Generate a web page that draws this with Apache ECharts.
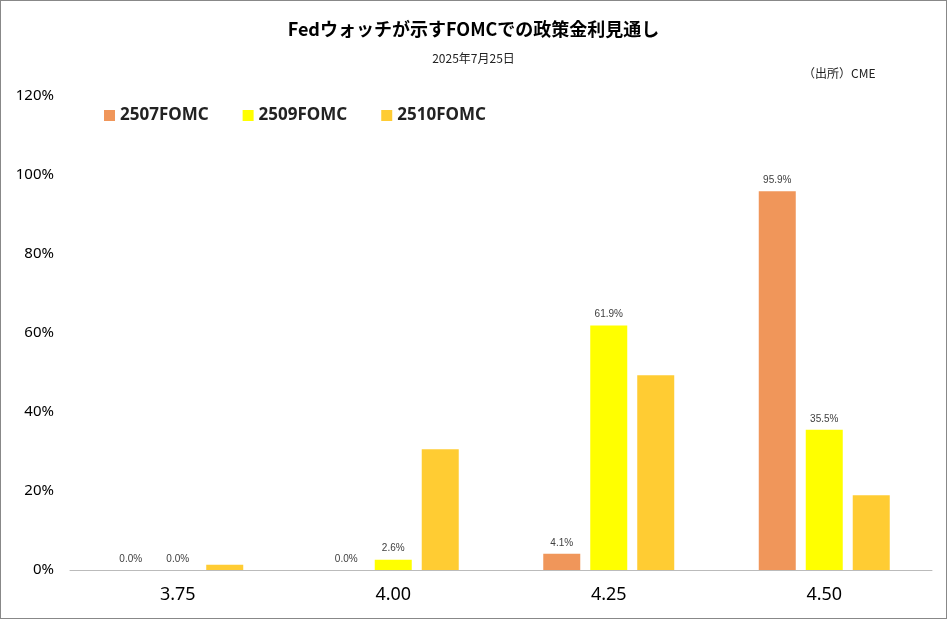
<!DOCTYPE html><html><head><meta charset="utf-8"><script src="https://cdn.jsdelivr.net/npm/echarts@6/dist/echarts.min.js"></script>
<style>body{margin:0}#c{width:945px;height:617px;border:1px solid #888;box-sizing:content-box}</style></head><body><div id="c"></div><script>
const categories=['3.75','4.00','4.25','4.50'];
const s2507=[0.0,0.0,4.1,95.9];
const s2509=[0.0,2.6,61.9,35.5];
const s2510=[1.3,30.6,49.3,18.9];
const names=['2507FOMC','2509FOMC','2510FOMC'];
const colors=['#F0965A','#FFFF00','#FFCC33'];
const ch=echarts.init(document.getElementById('c'));
const lab={show:true,position:'top',fontSize:10,color:'#404040',formatter:p=>p.value.toFixed(1)+'%',distance:6};
ch.setOption({
 title:[{text:'Fedウォッチが示すFOMCでの政策金利見通し',left:'center',top:14,textStyle:{fontSize:18,fontWeight:'bold',color:'#000',fontFamily:'Noto Sans CJK JP'}},
 {text:'2025年7月25日',left:'center',top:46,textStyle:{fontSize:12,fontWeight:'normal',color:'#222',fontFamily:'Noto Sans CJK JP'}},
 {text:'（出所）CME',left:797,top:61,textStyle:{fontSize:12,fontWeight:'normal',color:'#222',fontFamily:'Noto Sans CJK JP'}}],
 legend:{left:98,top:101,itemWidth:11,itemHeight:11,itemGap:34,icon:'rect',textStyle:{fontSize:17,fontWeight:'bold',color:'#222',fontFamily:'Noto Sans'}},
 grid:{left:69,right:14,top:95,bottom:48},
 xAxis:{type:'category',data:categories,axisTick:{show:false},axisLine:{lineStyle:{color:'#bbb'}},axisLabel:{fontSize:18,color:'#000',margin:16,fontFamily:'Noto Sans'}},
 yAxis:{type:'value',min:0,max:120,interval:20,splitLine:{show:false},axisLabel:{formatter:'{value}%',fontSize:15,color:'#000',margin:16,fontFamily:'Noto Sans'}},
 series:[
  {name:names[0],type:'bar',data:s2507,itemStyle:{color:colors[0]},barWidth:37,barGap:'27%',label:lab},
  {name:names[1],type:'bar',data:s2509,itemStyle:{color:colors[1]},barWidth:37,barGap:'27%',label:lab},
  {name:names[2],type:'bar',data:s2510,itemStyle:{color:colors[2]},barWidth:37,barGap:'27%'}
 ]});
</script></body></html>
